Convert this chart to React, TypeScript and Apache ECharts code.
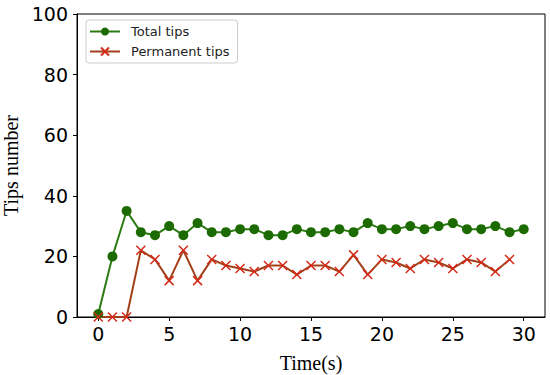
import React, { useEffect, useRef } from "react";
import * as echarts from "echarts";

const time = [0,1,2,3,4,5,6,7,8,9,10,11,12,13,14,15,16,17,18,19,20,21,22,23,24,25,26,27,28,29,30];
const totalTips = [1,20,35,28,27,30,27,31,28,28,29,29,27,27,29,28,28,29,28,31,29,29,30,29,30,31,29,29,30,28,29];
const permanentTips = [0,0,0,22,19,12,22,12,19,17,16,15,17,17,14,17,17,15,20.5,14,19,18,16,19,18,16,19,18,15,19];
const xTicks = [0,5,10,15,20,25,30];

const X_PATH = "path://M0,0L10,10M10,0L0,10";

export default function App() {
  const ref = useRef<HTMLDivElement>(null);
  useEffect(() => {
    const chart = echarts.init(ref.current!, null, { renderer: "svg" });
    const tickFont = { fontFamily: "DejaVu Sans", fontSize: 19, color: "#000" };
    chart.setOption({
      animation: false,
      grid: {
        left: 77, right: 5, top: 14, bottom: 58, show: true,
        borderColor: "#000", borderWidth: 1, backgroundColor: "transparent",
        containLabel: false, outerBoundsMode: "none",
      },
      legend: {
        left: 86, top: 20, orient: "vertical",
        itemWidth: 30, itemHeight: 10, itemGap: 7,
        padding: [5, 8, 5, 3],
        borderColor: "#cccccc", borderWidth: 1, borderRadius: 3,
        textStyle: { fontFamily: "DejaVu Sans", fontSize: 13, color: "#222", padding: [0, 0, 0, 6] },
        data: ["Total tips", "Permanent tips"],
      },
      xAxis: {
        type: "value", min: -1.5, max: 31.5,
        name: "Time(s)", nameLocation: "middle", nameGap: 36,
        nameTextStyle: { fontFamily: "Liberation Serif", fontSize: 20, color: "#000" },
        axisLine: { show: true, onZero: false, lineStyle: { color: "#000", width: 1 } },
        axisTick: { show: true, length: 4, lineStyle: { color: "#000" }, customValues: xTicks },
        axisLabel: { ...tickFont, margin: 7, customValues: xTicks },
        splitLine: { show: false },
      },
      yAxis: {
        type: "value", min: 0, max: 100, interval: 20,
        name: "Tips number", nameLocation: "middle", nameGap: 54,
        nameTextStyle: { fontFamily: "Liberation Serif", fontSize: 20, color: "#000" },
        axisLine: { show: true, onZero: false, lineStyle: { color: "#000", width: 1 } },
        axisTick: { show: true, length: 4, lineStyle: { color: "#000" } },
        axisLabel: { ...tickFont, margin: 9 },
        splitLine: { show: false },
      },
      series: [
        {
          name: "Total tips", type: "line",
          data: time.map((t, i) => [t, totalTips[i]]),
          symbol: "circle", symbolSize: 10, showSymbol: true,
          lineStyle: { color: "#2b7a12", width: 2 },
          itemStyle: { color: "#1c6b02", borderWidth: 0 },
        },
        {
          name: "Permanent tips", type: "line",
          data: permanentTips.map((v, i) => [time[i], v]),
          symbol: X_PATH, symbolSize: 9, showSymbol: true,
          lineStyle: { color: "#a3401a", width: 2 },
          itemStyle: { color: "#d42a1a", borderColor: "#d42a1a", borderWidth: 1.5 },
        },
      ],
    });
    return () => chart.dispose();
  }, []);
  return <div ref={ref} style={{ width: 550, height: 375, position: "absolute", left: 0, top: 0 }} />;
}
